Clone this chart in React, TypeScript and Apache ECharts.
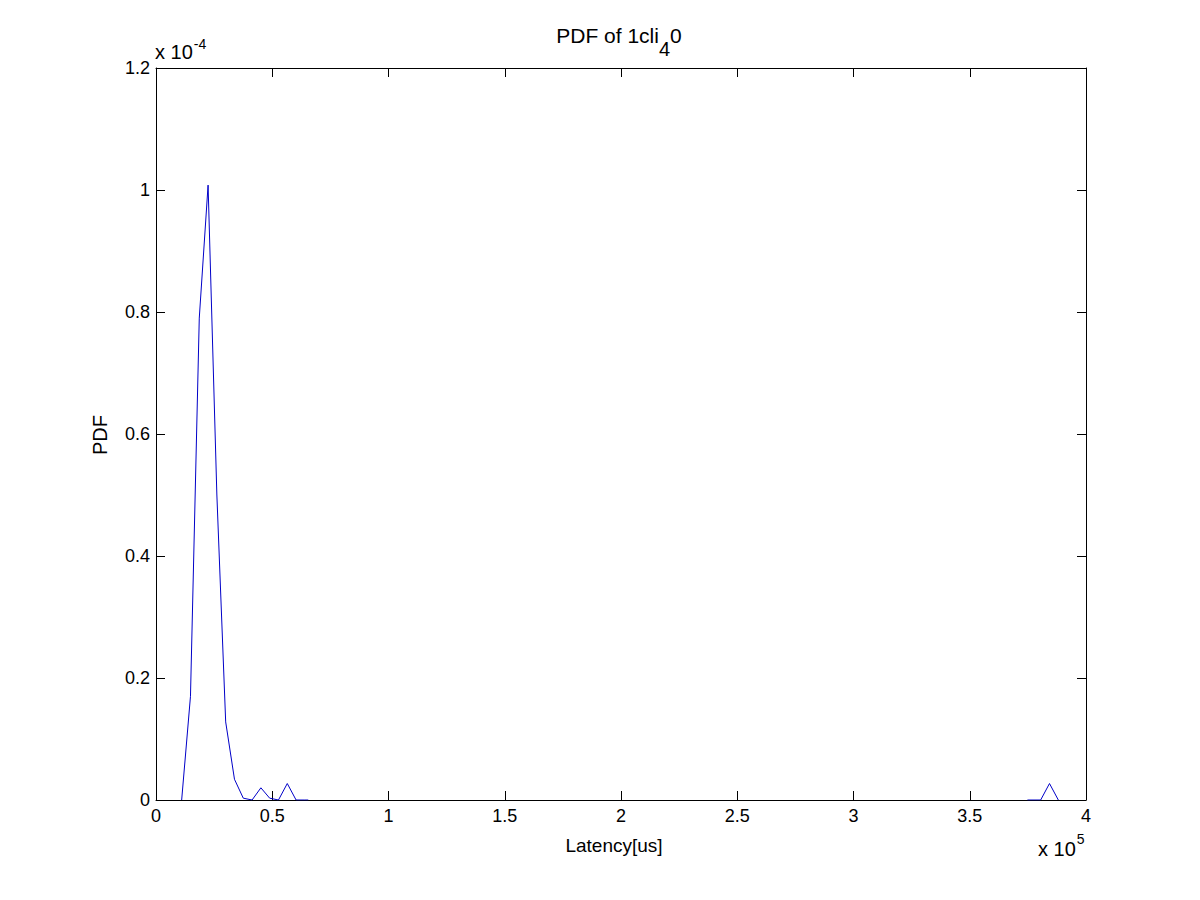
import React, { useEffect, useRef } from "react";
import * as echarts from "echarts";

// Latency bin centres [us] and PDF values
const mainLatency = [11040, 14830, 18610, 22400, 26180, 29970, 33750, 37540, 41320, 45110, 48890, 52680, 56460, 60250, 64030, 65500];
const mainPdf = [0, 0.17e-4, 0.79e-4, 1.008e-4, 0.5e-4, 0.128e-4, 0.034e-4, 0.003e-4, 0, 0.02e-4, 0.003e-4, 0, 0.027e-4, 0, 0, 0];
const tailLatency = [374800, 380500, 384300, 388100];
const tailPdf = [0, 0, 0.027e-4, 0];

const xTicks = [0, 0.5, 1, 1.5, 2, 2.5, 3, 3.5, 4];
const yTicks = [0, 0.2, 0.4, 0.6, 0.8, 1, 1.2];

const FONT = "Arial, 'Liberation Sans', Helvetica, sans-serif";

function fmt(v: number, scale: number) {
  return String(parseFloat((v * scale).toFixed(3)));
}

export default function App() {
  const ref = useRef<HTMLDivElement>(null);
  useEffect(() => {
    if (!ref.current) return;
    const chart = echarts.init(ref.current, undefined, { renderer: "svg" });
    const data: any[] = [];
    mainLatency.forEach((x, i) => data.push([x, mainPdf[i]]));
    data.push([(mainLatency[mainLatency.length - 1] + tailLatency[0]) / 2, "-"]);
    tailLatency.forEach((x, i) => data.push([x, tailPdf[i]]));

    const xMax = xTicks[xTicks.length - 1] * 1e5;
    const yMax = yTicks[yTicks.length - 1] * 1e-4;
    const axisLine = { show: true, onZero: false, lineStyle: { color: "#000", width: 1 } };
    const tick = { show: true, inside: true, length: 9, lineStyle: { color: "#000", width: 1 } };
    const labelStyle = { color: "#000", fontSize: 18, fontFamily: FONT };

    chart.setOption({
      animation: false,
      backgroundColor: "#fff",
      grid: { left: 156, right: 114, top: 68, bottom: 100, containLabel: false },
      xAxis: [
        {
          type: "value", min: 0, max: xMax, interval: 0.5e5, position: "bottom",
          axisLine, axisTick: tick, splitLine: { show: false },
          axisLabel: { ...labelStyle, margin: 7, formatter: (v: number) => fmt(v, 1e-5) },
        },
        {
          type: "value", min: 0, max: xMax, interval: 0.5e5, position: "top",
          axisLine, axisTick: tick, splitLine: { show: false }, axisLabel: { show: false },
        },
      ],
      yAxis: [
        {
          type: "value", min: 0, max: yMax, interval: 0.2e-4, position: "left",
          axisLine, axisTick: tick, splitLine: { show: false },
          axisLabel: { ...labelStyle, margin: 6, formatter: (v: number) => fmt(v, 1e4) },
        },
        {
          type: "value", min: 0, max: yMax, interval: 0.2e-4, position: "right",
          axisLine, axisTick: tick, splitLine: { show: false }, axisLabel: { show: false },
        },
      ],
      series: [
        {
          type: "line", data, showSymbol: false, symbol: "none", connectNulls: false,
          lineStyle: { color: "#0000c8", width: 1 }, itemStyle: { color: "#0000c8" },
          xAxisIndex: 0, yAxisIndex: 0,
        },
      ],
      graphic: [
        {
          type: "text", x: 619, y: 35,
          style: {
            text: "PDF of 1cli{sub|4}0", textAlign: "center", textVerticalAlign: "middle",
            fontSize: 21, fontFamily: FONT, fill: "#000",
            rich: { sub: { fontSize: 20, fontFamily: FONT, padding: [28, 0, 0, 0], fill: "#000" } },
          },
        },
        {
          type: "text", x: 155, y: 52,
          style: {
            text: "x 10{sup|-4}", textAlign: "left", textVerticalAlign: "middle",
            fontSize: 20, fontFamily: FONT, fill: "#000",
            rich: { sup: { fontSize: 14, fontFamily: FONT, padding: [0, 0, 16, 1], fill: "#000" } },
          },
        },
        {
          type: "text", x: 1038, y: 849,
          style: {
            text: "x 10{sup|5}", textAlign: "left", textVerticalAlign: "middle",
            fontSize: 20, fontFamily: FONT, fill: "#000",
            rich: { sup: { fontSize: 14, fontFamily: FONT, padding: [0, 0, 20, 1], fill: "#000" } },
          },
        },
        {
          type: "text", x: 614, y: 845,
          style: {
            text: "Latency[us]", textAlign: "center", textVerticalAlign: "middle",
            fontSize: 19, fontFamily: FONT, fill: "#000",
          },
        },
        {
          type: "text", x: 100, y: 435, rotation: Math.PI / 2,
          style: {
            text: "PDF", textAlign: "center", textVerticalAlign: "middle",
            fontSize: 20, fontFamily: FONT, fill: "#000",
          },
        },
      ],
    });
    return () => chart.dispose();
  }, []);
  return (
    <div
      ref={ref}
      style={{ position: "fixed", left: 0, top: 0, width: 1200, height: 900, background: "#fff" }}
    />
  );
}
